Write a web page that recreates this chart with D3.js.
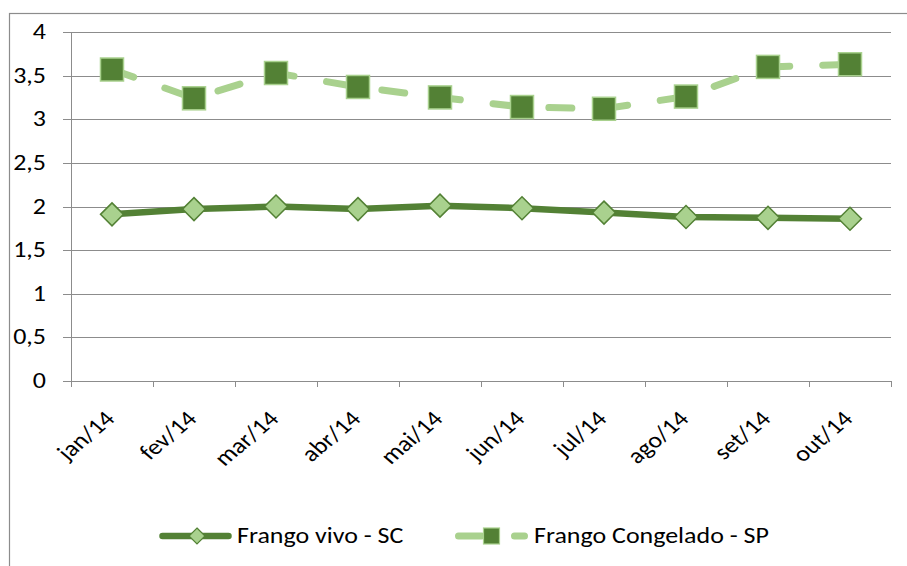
<!DOCTYPE html>
<html>
<head>
<meta charset="utf-8">
<script src="https://cdn.jsdelivr.net/npm/d3@7"></script>
<style>
  html, body { margin: 0; padding: 0; background: #fff; }
  svg { display: block; font-family: "Carlito", "Noto Sans", sans-serif; }
</style>
</head>
<body>
<svg id="chart" width="907" height="566"></svg>
<script>
const categories = ["jan/14","fev/14","mar/14","abr/14","mai/14","jun/14","jul/14","ago/14","set/14","out/14"];
const frangoVivoSC = [1.91, 1.97, 2.00, 1.97, 2.01, 1.98, 1.93, 1.88, 1.87, 1.86];
const frangoCongeladoSP = [3.57, 3.24, 3.53, 3.37, 3.25, 3.14, 3.12, 3.26, 3.60, 3.63];
const yTicks = [0, 0.5, 1, 1.5, 2, 2.5, 3, 3.5, 4];
const seriesNames = ["Frango vivo - SC", "Frango Congelado - SP"];

const dark = "#538135", light = "#A9D18E", grid = "#8c8c8c";
const SX = 1.18, FS = 22;
const svg = d3.select("#chart");

// outer chart border
svg.append("rect").attr("x", 9.5).attr("y", 13.5).attr("width", 905).attr("height", 560)
  .attr("fill", "none").attr("stroke", "#8c8c8c").attr("stroke-width", 1.2);

const x = d3.scaleBand().domain(categories).range([71, 891]).padding(0);
const y = d3.scaleLinear().domain([0, 4]).range([381, 32]);
const cx = c => x(c) + x.bandwidth() / 2;
const fmt = d3.formatLocale({decimal: ",", thousands: ".", grouping: [3], currency: ["", ""]}).format(".1~f");

// gridlines
svg.append("g").selectAll("line").data(yTicks).join("line")
  .attr("x1", 63).attr("x2", 891)
  .attr("y1", d => Math.round(y(d)) + 0.5).attr("y2", d => Math.round(y(d)) + 0.5)
  .attr("stroke", grid).attr("stroke-width", 1);

// y axis line
svg.append("line").attr("x1", 71.5).attr("x2", 71.5).attr("y1", 32).attr("y2", 381.5)
  .attr("stroke", grid).attr("stroke-width", 1);

// y labels
svg.append("g").selectAll("text").data(yTicks).join("text")
  .attr("transform", d => `translate(46,${y(d) + 7.1}) scale(${SX},1)`)
  .attr("text-anchor", "end").attr("font-size", FS).attr("fill", "#000")
  .text(d => fmt(d));

// x ticks at category boundaries
const bounds = categories.map(c => x(c)).concat([x.range()[1]]);
svg.append("g").selectAll("line").data(bounds).join("line")
  .attr("x1", d => Math.round(d) + 0.5).attr("x2", d => Math.round(d) + 0.5)
  .attr("y1", 381).attr("y2", 387)
  .attr("stroke", grid).attr("stroke-width", 1);

// x labels
svg.append("g").selectAll("text").data(categories).join("text")
  .attr("transform", d => `translate(${cx(d) + 4},${420}) scale(${SX},1) rotate(-45)`)
  .attr("text-anchor", "end").attr("font-size", FS).attr("fill", "#000")
  .text(d => d);

const line = d3.line().x((d, i) => cx(categories[i])).y(d => y(d));

// Congelado dashed line
svg.append("path").datum(frangoCongeladoSP).attr("d", line)
  .attr("fill", "none").attr("stroke", light).attr("stroke-width", 7)
  .attr("stroke-dasharray", "23,33").attr("stroke-linecap", "round").attr("stroke-linejoin", "round");

// Vivo solid line
svg.append("path").datum(frangoVivoSC).attr("d", line)
  .attr("fill", "none").attr("stroke", dark).attr("stroke-width", 6.5)
  .attr("stroke-linejoin", "round");

// squares
svg.append("g").selectAll("rect").data(frangoCongeladoSP).join("rect")
  .attr("x", (d, i) => cx(categories[i]) - 11.5).attr("y", d => y(d) - 11.5)
  .attr("width", 23).attr("height", 23)
  .attr("fill", dark).attr("stroke", light).attr("stroke-width", 1.5);

// diamonds
const dia = r => `M0,${-r}L${r},0L0,${r}L${-r},0Z`;
svg.append("g").selectAll("path").data(frangoVivoSC).join("path")
  .attr("transform", (d, i) => `translate(${cx(categories[i])},${y(d)})`)
  .attr("d", dia(11.5))
  .attr("fill", light).attr("stroke", dark).attr("stroke-width", 1.5);

// legend
const ly = 536;
const lg = svg.append("g");
lg.append("line").attr("x1", 162.5).attr("x2", 228.5).attr("y1", ly).attr("y2", ly)
  .attr("stroke", dark).attr("stroke-width", 6.5).attr("stroke-linecap", "round");
lg.append("path").attr("transform", `translate(197,${ly})`).attr("d", dia(8))
  .attr("fill", light).attr("stroke", dark).attr("stroke-width", 1.2);
lg.append("text").attr("transform", `translate(237,${ly + 7.1}) scale(${SX},1)`)
  .attr("font-size", FS).text(seriesNames[0]);

lg.append("line").attr("x1", 458.5).attr("x2", 524.5).attr("y1", ly).attr("y2", ly)
  .attr("stroke", light).attr("stroke-width", 7).attr("stroke-linecap", "round")
  .attr("stroke-dasharray", "23,33");
lg.append("rect").attr("x", 491.5 - 8).attr("y", ly - 8).attr("width", 16).attr("height", 16)
  .attr("fill", dark).attr("stroke", light).attr("stroke-width", 1.2);
lg.append("text").attr("transform", `translate(534,${ly + 7.1}) scale(${SX},1)`)
  .attr("font-size", FS).text(seriesNames[1]);
</script>
</body>
</html>
